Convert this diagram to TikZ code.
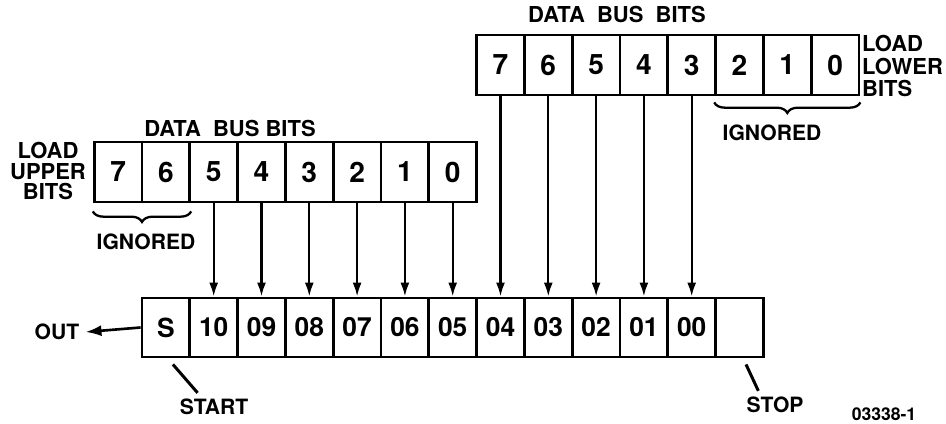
\documentclass[tikz,border=0pt]{standalone}
\usepackage{fontspec}
\setmainfont{TeX Gyre Heros}
\usetikzlibrary{arrows.meta, decorations.pathreplacing}

\begin{document}
\begin{tikzpicture}[
    font=\bfseries,
    >={Latex[length=2.8mm,width=1.8mm]},
    cell/.style={draw, line width=1.6pt, minimum width=0.956cm, minimum height=1.2cm, inner sep=0pt, font=\bfseries\fontsize{16}{16}\selectfont},
    scell/.style={cell, minimum height=1.18cm, font=\bfseries\fontsize{15}{15}\selectfont},
    bitline/.style={->, line width=1.3pt},
    ignbrace/.style={decorate, decoration={brace, mirror, amplitude=6pt}, line width=1.3pt},
    tick/.style={line width=1.7pt},
    lbl/.style={font=\bfseries\fontsize{12.5}{12.5}\selectfont}
]
    \useasboundingbox (0, 0) rectangle (18.92, 8.46);

    % serial word
    \node[scell] (sS) at (3.318, 1.91) {S};
    \node[scell] (s10) at (4.274, 1.91) {10};
    \node[scell] (s09) at (5.230, 1.91) {09};
    \node[scell] (s08) at (6.186, 1.91) {08};
    \node[scell] (s07) at (7.142, 1.91) {07};
    \node[scell] (s06) at (8.098, 1.91) {06};
    \node[scell] (s05) at (9.054, 1.91) {05};
    \node[scell] (s04) at (10.010, 1.91) {04};
    \node[scell] (s03) at (10.966, 1.91) {03};
    \node[scell] (s02) at (11.922, 1.91) {02};
    \node[scell] (s01) at (12.878, 1.91) {01};
    \node[scell] (s00) at (13.834, 1.91) {00};
    \node[scell] (sP) at (14.790, 1.91) {};

    % upper byte
    \node[lbl] (dbU) at (4.6, 5.9) {DATA\ \ BUS BITS};
    \node[cell] (U7) at (2.362, 5.02) {7};
    \node[cell] (U6) at (3.318, 5.02) {6};
    \node[cell] (U5) at (4.274, 5.02) {5};
    \node[cell] (U4) at (5.230, 5.02) {4};
    \node[cell] (U3) at (6.186, 5.02) {3};
    \node[cell] (U2) at (7.142, 5.02) {2};
    \node[cell] (U1) at (8.098, 5.02) {1};
    \node[cell] (U0) at (9.054, 5.02) {0};
    \node[align=center, font=\bfseries\fontsize{12.5}{11.5}\selectfont] (ldU) at (0.96, 5.04) {LOAD\\UPPER\\BITS};

    % lower byte
    \node[lbl] (dbL) at (12.34, 8.16) {DATA\ \ BUS\ \ BITS};
    \node[cell] (L7) at (10.010, 7.16) {7};
    \node[cell] (L6) at (10.966, 7.16) {6};
    \node[cell] (L5) at (11.922, 7.16) {5};
    \node[cell] (L4) at (12.878, 7.16) {4};
    \node[cell] (L3) at (13.834, 7.16) {3};
    \node[cell] (L2) at (14.790, 7.16) {2};
    \node[cell] (L1) at (15.746, 7.16) {1};
    \node[cell] (L0) at (16.702, 7.16) {0};
    \node[align=left, anchor=west, font=\bfseries\fontsize{12.5}{13}\selectfont] (ldL) at (17.12, 7.14) {LOAD\\LOWER\\BITS};

    % ignored bits
    \draw[ignbrace] ([yshift=-0.16cm]U7.south west) -- ([yshift=-0.16cm]U6.south east);
    \node[font=\bfseries\fontsize{12}{12}\selectfont] (igU) at (2.92, 3.62) {IGNORED};
    \draw[ignbrace] ([yshift=-0.12cm]L2.south west) -- ([yshift=-0.12cm]L0.south east);
    \node[font=\bfseries\fontsize{12}{12}\selectfont] (igL) at (15.44, 5.80) {IGNORED};

    \draw[bitline] (U5.south) -- (s10.north);
    \draw[bitline] (U4.south) -- (s09.north);
    \draw[bitline] (U3.south) -- (s08.north);
    \draw[bitline] (U2.south) -- (s07.north);
    \draw[bitline] (U1.south) -- (s06.north);
    \draw[bitline] (U0.south) -- (s05.north);
    \draw[bitline] (L7.south) -- (s04.north);
    \draw[bitline] (L6.south) -- (s03.north);
    \draw[bitline] (L5.south) -- (s02.north);
    \draw[bitline] (L4.south) -- (s01.north);
    \draw[bitline] (L3.south) -- (s00.north);

    % output and frame marks
    \node[font=\bfseries\fontsize{12}{12}\selectfont] (out) at (1.14, 1.82) {OUT};
    \draw[->, line width=1.5pt, >={Latex[length=3.2mm,width=2.2mm]}] (sS.west) -- (out.east);
    \node[font=\bfseries\fontsize{12}{12}\selectfont] (start) at (4.28, 0.32) {START};
    \draw[tick] ([shift={(0.14, -0.12)}]sS.south) -- ([xshift=0.48cm]start.north west);
    \node[font=\bfseries\fontsize{12}{12}\selectfont] (stop) at (15.5, 0.36) {STOP};
    \draw[tick] ([shift={(0.13, -0.12)}]sP.south) -- ([xshift=0.36cm]stop.north west);
    \node[font=\bfseries\fontsize{10}{10}\selectfont] (fig) at (17.68, 0.17) {03338-1};
\end{tikzpicture}
\end{document}
